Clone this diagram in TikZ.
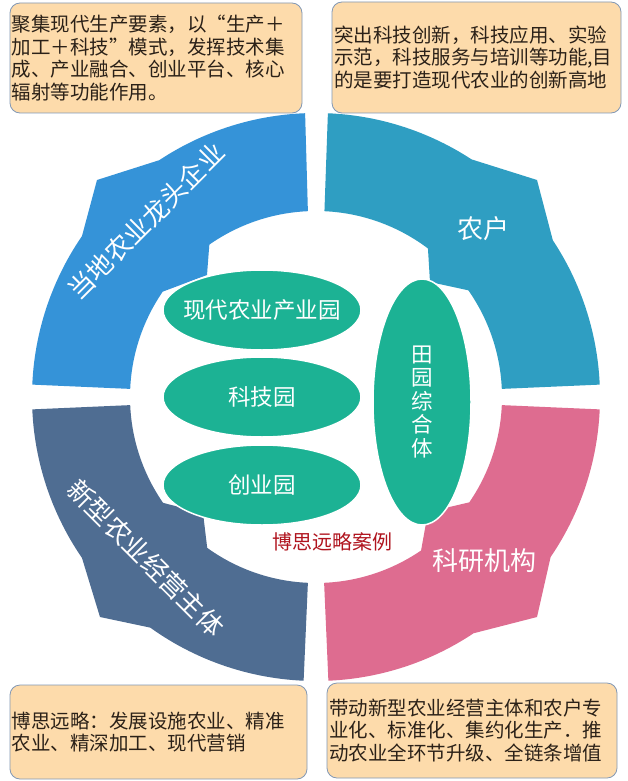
\documentclass[tikz,border=0pt]{standalone}
\usepackage{fontspec}
\setmainfont{Noto Sans CJK SC}
\usepackage{xcolor}
\usepackage{tikz}
\usetikzlibrary{shapes.geometric}
\definecolor{LeadBlue}{HTML}{3593D8}
\definecolor{FarmTeal}{HTML}{2F9EC2}
\definecolor{LabPink}{HTML}{DE6C90}
\definecolor{NewSlate}{HTML}{4F6D92}
\definecolor{ParkGreen}{HTML}{1CB294}
\definecolor{Peach}{HTML}{FDDBAB}
\definecolor{Frame}{HTML}{8298B5}
\definecolor{Ink}{HTML}{2B2118}
\definecolor{Mark}{HTML}{B0141E}

\begin{document}
\begin{tikzpicture}[x=1pt,y=-1pt,
  infobox/.style={draw=Frame,line width=0.8pt,fill=Peach,rounded corners=10pt,text=Ink,align=left,inner xsep=2pt,inner ysep=0pt,font=\fontsize{19.5}{22.5}\selectfont},
  park/.style={ellipse,fill=ParkGreen,draw=white,line width=1.5pt,inner sep=0pt},
  parktext/.style={text=white,font=\fontsize{22.5}{23}\selectfont},
  ringtext/.style={text=white,font=\fontsize{26}{28}\selectfont}]
\fill[white] (0,0) rectangle (627,781);
\useasboundingbox (0,0) rectangle (627,781);

% ring, four quarters
\fill[LeadBlue] plot[domain=182.5:214.5,samples=30] ({316+284*cos(\x)},{397+284*sin(\x)}) -- (97,180)
  -- plot[domain=236.5:267.8,samples=30] ({316+284*cos(\x)},{397+284*sin(\x)})
  -- plot[domain=267.5:235,samples=30] ({316+186*cos(\x)},{397+186*sin(\x)})
  -- (207,275) -- plot[domain=214.5:182.5,samples=30] ({316+186*cos(\x)},{397+186*sin(\x)}) -- cycle;
\fill[FarmTeal] plot[domain=272.4:303.2,samples=30] ({316+284*cos(\x)},{397+284*sin(\x)}) -- (537,180)
  -- plot[domain=326.5:357.5,samples=30] ({316+284*cos(\x)},{397+284*sin(\x)})
  -- plot[domain=357.5:325,samples=30] ({316+186*cos(\x)},{397+186*sin(\x)})
  -- (430,282) -- plot[domain=307:272.6,samples=30] ({316+186*cos(\x)},{397+186*sin(\x)}) -- cycle;
\fill[LabPink] plot[domain=2.5:34.3,samples=30] ({316+284*cos(\x)},{397+284*sin(\x)}) -- (537,617)
  -- plot[domain=56.3:87.5,samples=30] ({316+284*cos(\x)},{397+284*sin(\x)})
  -- plot[domain=87.5:55.6,samples=30] ({316+186*cos(\x)},{397+186*sin(\x)})
  -- (428,512) -- plot[domain=34.5:2.5,samples=30] ({316+186*cos(\x)},{397+186*sin(\x)}) -- cycle;
\fill[NewSlate] plot[domain=177.5:145.5,samples=30] ({316+284*cos(\x)},{397+284*sin(\x)}) -- (100,617)
  -- plot[domain=125.7:92.5,samples=30] ({316+284*cos(\x)},{397+284*sin(\x)})
  -- plot[domain=92.5:125.8,samples=30] ({316+186*cos(\x)},{397+186*sin(\x)})
  -- (203,513) -- plot[domain=145.3:177.5,samples=30] ({316+186*cos(\x)},{397+186*sin(\x)}) -- cycle;

\node[ringtext,rotate=45] (lead) at (146,221) {当地农业龙头企业};
\node[ringtext] (farm) at (483,229) {农户};
\node[ringtext] (lab) at (484,561) {科研机构};
\node[ringtext,rotate=-45] (newbody) at (146,558) {新型农业经营主体};

% parks in the middle
\node[park,minimum width=198pt,minimum height=80pt] (xdpark) at (262,310) {};
\node[park,minimum width=198pt,minimum height=80pt] (kjpark) at (262,397) {};
\node[park,minimum width=198pt,minimum height=80pt] (cypark) at (262,485) {};
\node[park,minimum width=98pt,minimum height=246pt] (typark) at (422,402) {};
\node[parktext] (xdtext) at (xdpark) {现代农业产业园};
\node[parktext] (kjtext) at (kjpark) {科技园};
\node[parktext] (cytext) at (cypark) {创业园};
\node[parktext,align=center,font=\fontsize{21.5}{23.5}\selectfont] (tytext) at (typark) {田\\园\\综\\合\\体};
\node[text=Mark,font=\fontsize{20}{22}\selectfont] (brand) at (332,542) {博思远略案例};

% notes
\node[infobox,minimum width=292pt,minimum height=110pt,text width=288pt] (leadnote) at (156,58)
  {聚集现代生产要素，以“生产＋\\加工＋科技”模式，发挥技术集\\成、产业融合、创业平台、核心\\辐射等功能作用。};
\node[infobox,minimum width=289pt,minimum height=111pt,text width=285pt] (farmnote) at (476.5,57.5)
  {突出科技创新，科技应用、实验\\示范，科技服务与培训等功能,目\\的是要打造现代农业的创新高地};
\node[infobox,minimum width=297pt,minimum height=94pt,text width=293pt] (bodynote) at (158.5,732)
  {博思远略：发展设施农业、精准\\农业、精深加工、现代营销};
\node[infobox,minimum width=290pt,minimum height=95pt,text width=286pt] (labnote) at (472,730.5)
  {带动新型农业经营主体和农户专\\业化、标准化、集约化生产．推\\动农业全环节升级、全链条增值};
\end{tikzpicture}
\end{document}
